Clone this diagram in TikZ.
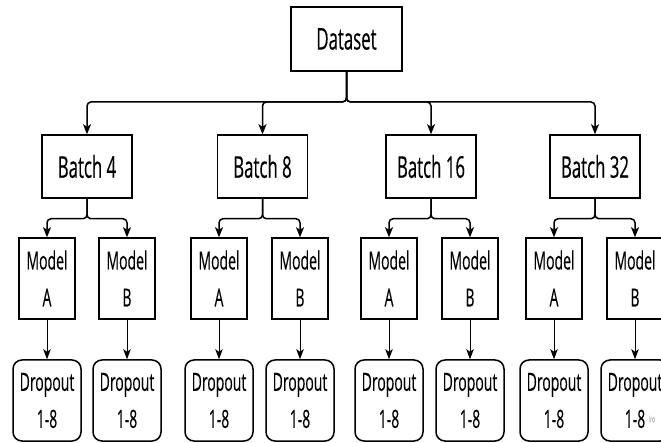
\documentclass[tikz,border=0pt]{standalone}
\usepackage{fontspec}
\setmainfont[FakeStretch=0.56,FakeBold=0.3]{Open Sans}
\usetikzlibrary{arrows.meta}
\begin{document}
\begin{tikzpicture}[x=1pt,y=-1pt,
  box/.style={draw, line width=1.5pt, inner sep=0pt, align=center, text=black},
  topbox/.style={box, minimum width=111pt, minimum height=64pt, font=\fontsize{30}{36}\selectfont},
  batchbox/.style={box, minimum width=90pt, minimum height=63pt, font=\fontsize{30}{36}\selectfont},
  modelbox/.style={box, minimum width=56pt, minimum height=81pt, font=\fontsize{25}{37}\selectfont},
  dropbox/.style={box, rounded corners=9pt, minimum width=68pt, minimum height=81pt, font=\fontsize{25}{37}\selectfont},
  bus/.style={line width=1.5pt, rounded corners=4pt, -{Stealth[length=10pt,width=8pt,inset=2.5pt]}},
  link/.style={line width=1pt, -{Stealth[length=10pt,width=7.5pt,inset=2.5pt]}}]
\useasboundingbox (0,0) rectangle (661,443);
\clip (0,0) rectangle (661,443);

\node[topbox] (ds) at (346.5,39) {Dataset};
\coordinate (j0) at (346.5,102);

\node[batchbox] (b1) at (87,166.5) {Batch 4};
\node[batchbox] (b2) at (262.5,166.5) {Batch 8};
\node[batchbox] (b3) at (431,166.5) {Batch 16};
\node[batchbox] (b4) at (595,166.5) {Batch 32};

\foreach \i in {1,2,3,4} {
  \draw[bus] (ds.south) -- (j0) -| (b\i.north);
}

\node[modelbox] (m1a) at (47,278.5) {Model\\A};
\node[modelbox] (m1b) at (127,278.5) {Model\\B};
\node[modelbox] (m2a) at (219,278.5) {Model\\A};
\node[modelbox] (m2b) at (300,278.5) {Model\\B};
\node[modelbox] (m3a) at (389,278.5) {Model\\A};
\node[modelbox] (m3b) at (470,278.5) {Model\\B};
\node[modelbox] (m4a) at (554,278.5) {Model\\A};
\node[modelbox] (m4b) at (635,278.5) {Model\\B};

\node[dropbox] (d1a) at (47,400.5) {Dropout\\1-8};
\node[dropbox] (d1b) at (127,400.5) {Dropout\\1-8};
\node[dropbox] (d2a) at (219,400.5) {Dropout\\1-8};
\node[dropbox] (d2b) at (300,400.5) {Dropout\\1-8};
\node[dropbox] (d3a) at (389,400.5) {Dropout\\1-8};
\node[dropbox] (d3b) at (470,400.5) {Dropout\\1-8};
\node[dropbox] (d4a) at (554,400.5) {Dropout\\1-8};
\node[dropbox] (d4b) at (635,400.5) {Dropout\\1-8};

\foreach \i in {1,2,3,4} {
  \coordinate (j\i) at ([yshift=-20pt]b\i.south);
  \draw[bus] (b\i.south) -- (j\i) -| (m\i a.north);
  \draw[bus] (b\i.south) -- (j\i) -| (m\i b.north);
  \draw[link] (m\i a.south) -- (d\i a.north);
  \draw[link] (m\i b.south) -- (d\i b.north);
}

\node[text=black!30, font=\fontsize{9}{9}\selectfont, inner sep=0pt] (wm) at (652,419) {iro};
\end{tikzpicture}
\end{document}
